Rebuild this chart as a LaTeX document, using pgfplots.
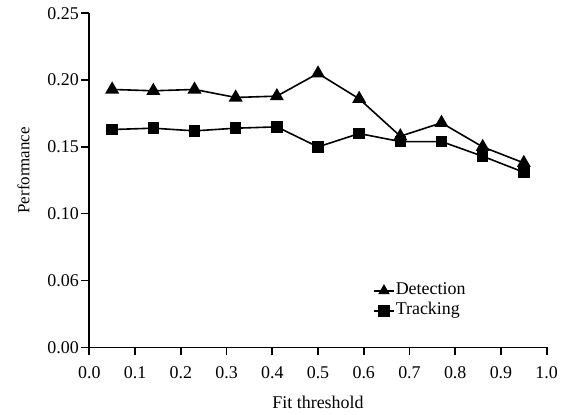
\documentclass[border=0pt]{standalone}
\usepackage{fontspec}
\setmainfont{Liberation Serif}
\usepackage{pgfplots}
\pgfplotsset{compat=1.18}
\begin{document}
\begin{tikzpicture}
\useasboundingbox (-89.3bp,-67.7bp) rectangle (480.7bp,347.3bp);
\begin{axis}[
  scale only axis,
  width=457.4bp, height=334bp,
  xmin=0, xmax=1, ymin=0, ymax=0.25,
  axis lines=left,
  axis line style={-, line width=1.6bp},
  tick style={line width=1.6bp, black},
  tick align=outside,
  major tick length=8bp,
  xtick={0,0.1,0.2,0.3,0.4,0.5,0.6,0.7,0.8,0.9,1.0},
  xticklabels={0.0,0.1,0.2,0.3,0.4,0.5,0.6,0.7,0.8,0.9,1.0},
  ytick={0,0.05,0.10,0.15,0.20,0.25},
  yticklabels={0.00,0.06,0.10,0.15,0.20,0.25},
  font=\fontsize{18}{21}\selectfont,
  ticklabel style={font=\fontsize{18}{21}\selectfont},
  yticklabel style={xshift=1bp},
  xticklabel style={yshift=-8bp},
  xlabel={Fit threshold},
  ylabel={Performance},
  xlabel style={yshift=-10bp, font=\fontsize{18}{21}\selectfont},
  ylabel style={yshift=11bp, xshift=10bp, font=\fontsize{17}{21}\selectfont},
  legend style={at={(0.618,0.2)}, anchor=north west, draw=none, fill=none,
    font=\fontsize{18}{21}\selectfont, row sep=2bp,
    inner sep=1bp,
    nodes={inner sep=1bp, text height=12bp, text depth=4bp}},
  legend cell align=left,
  legend image code/.code={
    \draw[mark repeat=2,mark phase=2,mark size=5bp] plot coordinates {(0bp,0bp) (10bp,0bp) (20bp,0bp)};
  },
]
\addplot[black, line width=1.6bp, mark=triangle*, mark size=6.5bp, mark options={solid}] coordinates {
(0.05,0.193) (0.14,0.192) (0.23,0.193) (0.32,0.187) (0.41,0.188) (0.50,0.205)
(0.59,0.186) (0.68,0.158) (0.77,0.168) (0.86,0.150) (0.95,0.138)};
\addlegendentry{Detection}
\addplot[black, line width=1.6bp, mark=square*, mark size=5bp, mark options={solid}] coordinates {
(0.05,0.163) (0.14,0.164) (0.23,0.162) (0.32,0.164) (0.41,0.165) (0.50,0.150)
(0.59,0.160) (0.68,0.154) (0.77,0.154) (0.86,0.143) (0.95,0.131)};
\addlegendentry{Tracking}
\end{axis}
\end{tikzpicture}
\end{document}
